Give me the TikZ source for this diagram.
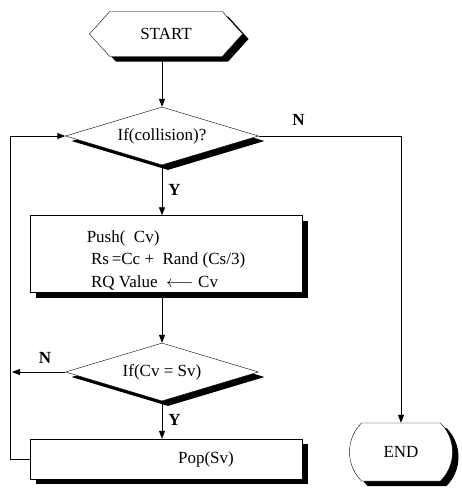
\documentclass[tikz,border=0pt]{standalone}
\usepackage{fontspec}
\setmainfont{Liberation Serif}
\usetikzlibrary{positioning}
\usetikzlibrary{shapes.geometric,shapes.symbols,shapes.misc,shadows,arrows.meta}

\begin{document}
\begin{tikzpicture}[x=1pt, y=-1pt,
      every node/.style={font=\fontsize{17}{22.5}\selectfont, inner sep=0pt},
      dark/.style={drop shadow={shadow xshift=6pt, shadow yshift=-5pt,
                   fill=black, opacity=1}},
      startbox/.style={signal, signal to=east and west, signal pointer angle=96,
                   draw, fill=white, dark, minimum width=153pt, minimum height=45pt},
      cond/.style={diamond, aspect=3.3, draw, fill=white, dark,
                   minimum width=193pt, minimum height=58pt},
      proc/.style={rectangle, draw, fill=white, dark, minimum width=272pt},
      endbox/.style={rounded rectangle, rounded rectangle arc length=90,
                   draw, fill=white, dark, minimum width=103pt, minimum height=58pt},
      tag/.style={font=\bfseries\fontsize{17}{20}\selectfont},
      arrow/.style={-{Triangle[length=8pt, width=6pt]}, line width=0.8pt},
      line/.style={line width=0.8pt},
  ]
    \useasboundingbox (0,0) rectangle (461,493);

    % main column
    \node[startbox] (start) at (166,34) {START};
    \node[cond] (coll) at (162,136) {If(collision)?};
    \node[proc, minimum height=77pt, align=left] (push) at (166,254)
      {\rule{0pt}{24pt}Push(\ \ Cv)\\
       \ Rs\,=Cc +\ \ Rand (Cs/3)\\
       \ RQ Value\ \ $\longleftarrow$\ Cv};
    \node[cond] (same) at (162,372) {If(Cv = Sv)};
    \node[proc, minimum height=40pt] (pop) at (166,459) {\hspace*{80pt}Pop(Sv)};

    % right column
    \node[endbox] (finish) at (401,452) {END};

    % loop back on the left
    \coordinate (loop) at (10,459);

    \draw[arrow] (coll.north |- start.south) -- (coll.north);
    \draw[arrow] (coll.south) -- node[tag, right=6pt] {Y} (coll.south |- push.north);
    \draw[arrow] (coll.east) -- node[tag, above=10pt, pos=0.28] {N}
      (finish.north |- coll.east) -- (finish.north);
    \draw[arrow] (same.north |- push.south) -- (same.north);
    \draw[arrow] (same.south) -- node[tag, right=6pt] {Y} (same.south |- pop.north);
    \draw[arrow] (same.west) -- node[tag, above=8pt, pos=0.38] {N} ([xshift=2pt]loop |- same.west);
    \draw[arrow] (pop.west) -- (loop) -- (loop |- coll.west) -- (coll.west);
  \end{tikzpicture}
\end{document}
